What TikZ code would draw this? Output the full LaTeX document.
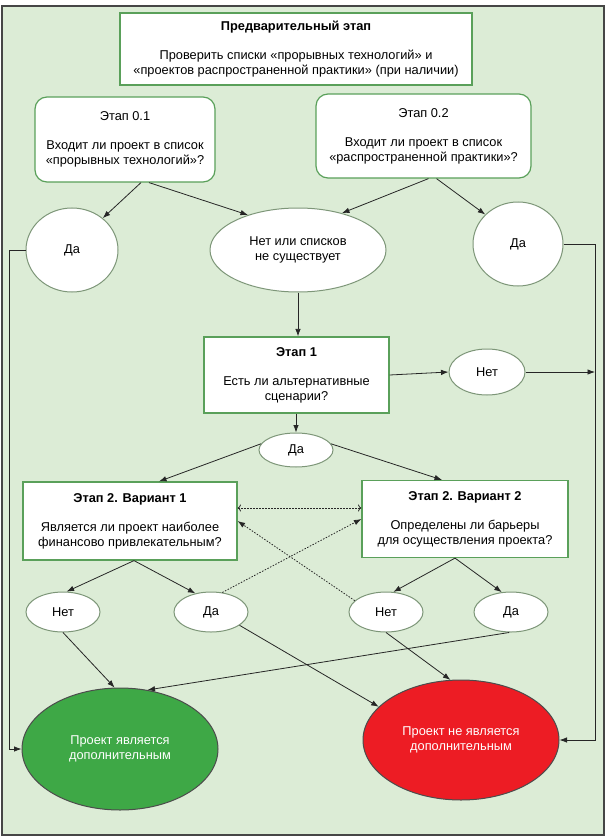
\documentclass[tikz,border=0pt]{standalone}
\usepackage{fontspec}
\setmainfont{Liberation Sans}
\usetikzlibrary{shapes.geometric,arrows.meta}

\definecolor{bgGreen}{RGB}{220,236,214}
\definecolor{boxGreen}{RGB}{90,160,90}
\definecolor{ellGray}{RGB}{125,150,120}
\definecolor{yesGreen}{RGB}{62,168,70}
\definecolor{noRed}{RGB}{237,28,36}
\definecolor{frameGray}{RGB}{70,70,70}

\tikzset{
	box/.style={draw=boxGreen, line width=1.2pt, fill=white, align=center, inner sep=0pt, font=\fontsize{12.8}{15}\selectfont},
	rbox/.style={box, rounded corners=12pt},
	ans/.style={ellipse, draw=ellGray, line width=1pt, fill=white, align=center, inner sep=0pt, font=\fontsize{12.8}{15}\selectfont},
	fin/.style={ans, draw=black!70, text=white},
	arr/.style={-{Latex[length=7.5pt,width=5.5pt]}, line width=0.8pt, black!85},
	dotarr/.style={arr, dash pattern=on 1.5pt off 1.5pt},
}

\begin{document}
\begin{tikzpicture}[x=1pt, y=-1pt]
	
	% Parameters
	\def\lftX{9}   % left return line
	\def\rgtX{595} % right return line
	
	\useasboundingbox (0,0) rectangle (606,837);
	\draw[frameGray, line width=1.5pt, fill=bgGreen] (2,6) rectangle (604,835);
	
	% -----------------------------
	% Preliminary stage
	% -----------------------------
	\node[box, minimum width=352pt, minimum height=72pt] (pre) at (296,49)
	{\textbf{Предварительный этап}\\[14pt]Проверить списки «прорывных технологий» и\\«проектов распространенной практики» (при наличии)};
	
	\node[rbox, minimum width=180pt, minimum height=85pt] (st01) at (125,139.5)
	{Этап 0.1\\[14pt]Входит ли проект в список\\«прорывных технологий»?};
	\node[rbox, minimum width=215pt, minimum height=84pt] (st02) at (423.5,136)
	{Этап 0.2\\[14pt]Входит ли проект в список\\«распространенной практики»?};
	
	\node[ans, minimum width=92pt, minimum height=84pt] (yes01) at (72,250) {Да};
	\node[ans, minimum width=176pt, minimum height=84pt] (none) at (298,250) {Нет или списков\\не существует};
	\node[ans, minimum width=90pt, minimum height=84pt] (yes02) at (518,244) {Да};
	
	\draw[arr] ([xshift=16pt]st01.south) -- (yes01.46);
	\draw[arr] ([xshift=24pt]st01.south) -- (none.145);
	\draw[arr] ([xshift=5pt]st02.south) -- (none.40);
	\draw[arr] ([xshift=13pt]st02.south) -- (yes02.138);
	
	% -----------------------------
	% Stage 1
	% -----------------------------
	\node[box, minimum width=185pt, minimum height=76pt] (st1) at (296.5,375)
	{\textbf{Этап 1}\\[14pt]Есть ли альтернативные\\сценарии?};
	\node[ans, minimum width=76pt, minimum height=46pt] (no1) at (487,372) {Нет};
	\node[ans, minimum width=74pt, minimum height=34pt] (yes1) at (296,450) {Да};
	
	\draw[arr] (none.south) -- (none.south |- st1.north);
	\draw[arr] (st1.east) -- (no1.west);
	\draw[arr] (no1.east) -- (no1.east -| \rgtX,0);
	\draw[arr] (st1.south -| yes1.north) -- (yes1.north);
	
	% -----------------------------
	% Stage 2, two variants
	% -----------------------------
	\node[box, minimum width=214pt, minimum height=78pt] (v1) at (130,521)
	{\textbf{Этап 2. Вариант 1}\\[14pt]Является ли проект наиболее\\финансово привлекательным?};
	\node[box, minimum width=206pt, minimum height=77pt] (v2) at (465,519)
	{\textbf{Этап 2. Вариант 2}\\[14pt]Определены ли барьеры\\для осуществления проекта?};
	
	\draw[arr] (yes1.170) -- ([xshift=29pt]v1.north);
	\draw[arr] (yes1.10) -- ([xshift=-23pt]v2.north);
	\draw[dotarr, <->] ([yshift=13pt]v1.east) -- ([yshift=13pt]v1.east -| v2.west);
	
	\node[ans, minimum width=74pt, minimum height=40pt] (no21) at (63,612) {Нет};
	\node[ans, minimum width=74pt, minimum height=40pt] (yes21) at (211,612) {Да};
	\node[ans, minimum width=74pt, minimum height=40pt] (no22) at (386,612) {Нет};
	\node[ans, minimum width=74pt, minimum height=40pt] (yes22) at (511,612) {Да};
	
	\draw[arr] ([xshift=4pt]v1.south) -- (no21.80);
	\draw[arr] ([xshift=4pt]v1.south) -- (yes21.130);
	\draw[arr] ([xshift=-10pt]v2.south) -- (no22.70);
	\draw[arr] ([xshift=-10pt]v2.south) -- (yes22.115);
	
	\draw[dotarr] (yes21.60) -- (v2.west);
	\draw[dotarr] (no22.160) -- (v1.east);
	
	% -----------------------------
	% Outcomes
	% -----------------------------
	\node[fin, fill=yesGreen, minimum width=196pt, minimum height=122pt] (fyes) at (120,749)
	{Проект является\\дополнительным};
	\node[fin, fill=noRed, minimum width=196pt, minimum height=120pt] (fno) at (461,740)
	{Проект не является\\дополнительным};
	
	\draw[arr] (no21.south) -- (fyes.95);
	\draw[arr] (yes22.-95) -- (fyes.65);
	\draw[arr] (yes21.-25) -- (fno.158);
	\draw[arr] (no22.south) -- (fno.100);
	
	% Return lines
	\draw[arr] (yes01.west) -- (yes01.west -| \lftX,0) |- (fyes.west);
	\draw[arr] (yes02.east) -- (yes02.east -| \rgtX,0) |- (fno.east);
	
\end{tikzpicture}
\end{document}
